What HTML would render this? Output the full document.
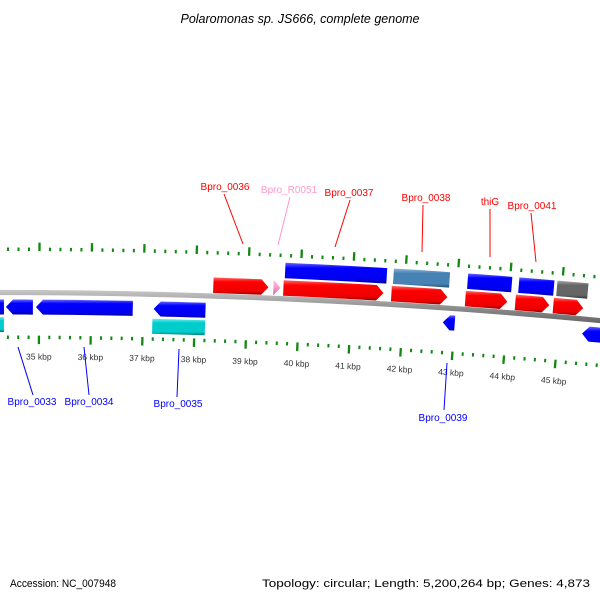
<!DOCTYPE html>
<html><head><meta charset="utf-8"><style>
html,body{margin:0;padding:0;background:#fff;width:600px;height:600px;overflow:hidden}
svg{display:block;font-family:"Liberation Sans",sans-serif}
</style></head><body>
<svg id="map" width="600" height="600" viewBox="0 0 600 600" xmlns="http://www.w3.org/2000/svg">
<defs>
<linearGradient id="gRed" x1="0" y1="0" x2="0" y2="1"><stop offset="0" stop-color="#ff6666"/><stop offset="0.25" stop-color="#ff0000"/><stop offset="0.8" stop-color="#ee0000"/><stop offset="1" stop-color="#990000"/></linearGradient>
<linearGradient id="gBlue" x1="0" y1="0" x2="0" y2="1"><stop offset="0" stop-color="#6666ff"/><stop offset="0.25" stop-color="#0000ff"/><stop offset="0.8" stop-color="#0000ee"/><stop offset="1" stop-color="#000099"/></linearGradient>
<linearGradient id="gSteel" x1="0" y1="0" x2="0" y2="1"><stop offset="0" stop-color="#8fb4d6"/><stop offset="0.25" stop-color="#4682b4"/><stop offset="0.8" stop-color="#4682b4"/><stop offset="1" stop-color="#2a4e6c"/></linearGradient>
<linearGradient id="gGray" x1="0" y1="0" x2="0" y2="1"><stop offset="0" stop-color="#aaaaaa"/><stop offset="0.25" stop-color="#666666"/><stop offset="0.8" stop-color="#666666"/><stop offset="1" stop-color="#333333"/></linearGradient>
<linearGradient id="gCyan" x1="0" y1="0" x2="0" y2="1"><stop offset="0" stop-color="#66eeee"/><stop offset="0.25" stop-color="#00cccc"/><stop offset="0.8" stop-color="#00cccc"/><stop offset="1" stop-color="#007777"/></linearGradient>
<linearGradient id="gPink" x1="0" y1="0" x2="0" y2="1"><stop offset="0" stop-color="#ffc0dd"/><stop offset="0.5" stop-color="#ff99cc"/><stop offset="1" stop-color="#cc6699"/></linearGradient>
<linearGradient id="gBack" x1="0" y1="0" x2="0" y2="1"><stop offset="0" stop-color="#c8c8c8"/><stop offset="0.5" stop-color="#888888"/><stop offset="1" stop-color="#555555"/></linearGradient>
</defs>
<text x="300" y="23" text-anchor="middle" font-size="12.5" font-style="italic" fill="#000">Polaromonas sp. JS666, complete genome</text>
<g id="ticks"></g>
<g id="backbone"></g>
<g id="features"></g>
<g id="labels"></g>
<text x="10" y="587" font-size="11" fill="#000" textLength="106" lengthAdjust="spacingAndGlyphs">Accession: NC_007948</text>
<text x="590" y="587" text-anchor="end" font-size="11" fill="#000" textLength="328" lengthAdjust="spacingAndGlyphs">Topology: circular; Length: 5,200,264 bp; Genes: 4,873</text>
</svg>
<script>
// feature data (bp)
const fwdGeneStarts = [38337, 39489, 39681, 41754, 43175, 44135, 44865];
const fwdGeneEnds   = [39393, 39624, 41601, 42829, 43981, 44788, 45441];
const fwdGeneKinds  = ['red','pink','red','red','red','red','red'];
const fwdCdsStarts = [39700, 41773, 43194, 44175, 44905];
const fwdCdsEnds   = [41645, 42848, 44040, 44847, 45500];
const fwdCdsKinds  = ['blue','steel','blue','blue','gray'];
const revGeneStarts = [33900, 34361, 34939, 37204, 42774, 45463];
const revGeneEnds   = [34323, 34880, 36802, 38202, 43005, 46400];
const revCdsStarts = [33900, 37185];
const revCdsEnds   = [34323, 38202];
const kbpTicks = [35,36,37,38,39,40,41,42,43,44,45];
const kbpLabels = ['35 kbp','36 kbp','37 kbp','38 kbp','39 kbp','40 kbp','41 kbp','42 kbp','43 kbp','44 kbp','45 kbp'];
const labelNames = ['Bpro_0036','Bpro_R0051','Bpro_0037','Bpro_0038','thiG','Bpro_0041','Bpro_0033','Bpro_0034','Bpro_0035','Bpro_0039'];
const labelColors = ['#ff0000','#ff99cc','#ff0000','#ff0000','#ff0000','#ff0000','#0000ff','#0000ff','#0000ff','#0000ff'];
const labelTextXY = [[225,190],[289,193],[349,196],[426,201],[490,205],[532,209],[32,405],[89,405],[178,407],[443,421]];
const labelLines = [[224,194,243,244],[290,197,278,245],[350,200,335,247],[423,205,422,252],[490,209,490,257],[531,213,536,262],[18,347,33,395],[84,347,89,395],[179,349,177,397],[447,363,444,410]];

const NS='http://www.w3.org/2000/svg';
const R=6430, CX=0, CY=292.5+6430;
const TH0=0.0061, K=8.1e-6;
function theta(bp){return TH0+(bp-35000)*K;}
function pt(bp,off){const t=theta(bp),r=R+off;return [CX+r*Math.sin(t),CY-r*Math.cos(t)];}
function mk(tag,attrs,parent){const e=document.createElementNS(NS,tag);for(const k in attrs)e.setAttribute(k,attrs[k]);parent.appendChild(e);return e;}
function arcPts(b0,b1,off,n){const a=[];for(let i=0;i<=n;i++)a.push(pt(b0+(b1-b0)*i/n,off));return a;}
const fills={red:'url(#gRed)',blue:'url(#gBlue)',steel:'url(#gSteel)',gray:'url(#gGray)',cyan:'url(#gCyan)',pink:'url(#gPink)'};
const AH=135; // arrow head in bp
function shape(b0,b1,inner,outer,dir,kind,g,name){
  let P=[];
  if(dir===0){P=arcPts(b0,b1,outer,6).concat(arcPts(b1,b0,inner,6));}
  else if(dir>0){const h=Math.max(b0,b1-AH);P=arcPts(b0,h,outer,6);P.push(pt(b1,(inner+outer)/2));P=P.concat(arcPts(h,b0,inner,6));}
  else {const h=Math.min(b1,b0+AH);P=[pt(b0,(inner+outer)/2)].concat(arcPts(h,b1,outer,6)).concat(arcPts(b1,h,inner,6));}
  const p=mk('polygon',{points:P.map(q=>q[0].toFixed(2)+','+q[1].toFixed(2)).join(' '),fill:fills[kind]},g);
  
  
}
// ticks
const tg=document.getElementById('ticks');
for(let bp=34000;bp<=46600;bp+=200){
  const major=bp%1000===0;
  const len=major?8.5:3.5, w=major?2.3:2;
  let a=pt(bp,41.5),b=pt(bp,41.5+len);
  const l1=mk('line',{x1:a[0],y1:a[1],x2:b[0],y2:b[1],stroke:'#118811','stroke-width':w},tg);
  
  
  a=pt(bp,-43);b=pt(bp,-43-len);
  const l2=mk('line',{x1:a[0],y1:a[1],x2:b[0],y2:b[1],stroke:'#118811','stroke-width':w},tg);
  
  
}
kbpTicks.forEach((k,i)=>{
  const p=pt(k*1000,-64);const deg=theta(k*1000)*180/Math.PI;
  const t=mk('text',{x:p[0],y:p[1]+3,'text-anchor':'middle','font-size':'8.5',fill:'#333',transform:'rotate('+deg+' '+p[0]+' '+p[1]+')'},tg);
  t.textContent=kbpLabels[i];
  
  
});
// backbone
const bg=document.getElementById('backbone');
const BP=arcPts(33000,47000,2.6,40).concat(arcPts(47000,33000,-2.6,40));
const bb=mk('polygon',{points:BP.map(q=>q.join(',')).join(' '),fill:'url(#gBack)'},bg);


// features
const fg=document.getElementById('features');
fwdGeneStarts.forEach((s,i)=>shape(s,fwdGeneEnds[i],3,18.5,1,fwdGeneKinds[i],fg,'forward-gene'));
fwdCdsStarts.forEach((s,i)=>shape(s,fwdCdsEnds[i],20.5,36,0,fwdCdsKinds[i],fg,'forward-cds'));
revGeneStarts.forEach((s,i)=>shape(s,revGeneEnds[i],-22,-7,-1,'blue',fg,'reverse-gene'));
revCdsStarts.forEach((s,i)=>shape(s,revCdsEnds[i],-39.5,-24.5,0,'cyan',fg,'reverse-cds'));
// labels
const lg=document.getElementById('labels');
labelNames.forEach((n,i)=>{
  const L=labelLines[i];
  const ln=mk('line',{x1:L[0],y1:L[1],x2:L[2],y2:L[3],stroke:labelColors[i],'stroke-width':1},lg);
  
  
  const t=mk('text',{x:labelTextXY[i][0],y:labelTextXY[i][1],'text-anchor':'middle','font-size':'10',fill:labelColors[i]},lg);
  t.textContent=n;
  
  
});
</script>
</body></html>
